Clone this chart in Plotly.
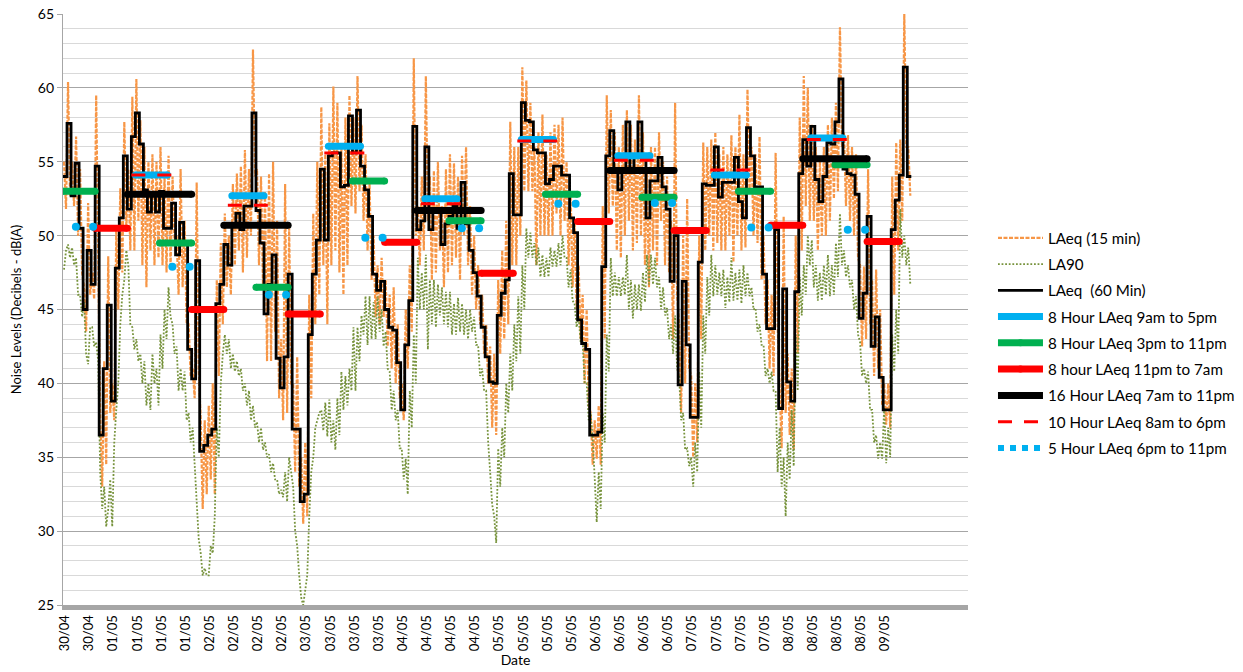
import plotly.graph_objects as go

# ---------------- DATA ----------------
# hourly LAeq (60 min), hour 0 = 30/04 15:00
laeq60 = [
    54.0, 57.6, 52.7, 54.9, 50.5, 45.0, 49.0, 46.7, 54.7, 36.5,
    41.0, 45.3, 38.8, 47.8, 51.2, 55.4, 51.8, 56.7, 58.3, 56.2,
    53.1, 51.6, 52.8, 51.6, 53.0, 50.5, 50.5, 52.2, 48.7, 50.9,
    49.5, 42.3, 40.3, 48.3, 35.4, 35.8, 36.5, 36.9, 45.4, 46.7,
    49.4, 48.0, 50.8, 51.5, 50.4, 52.0, 52.0, 58.3, 51.7, 49.5,
    44.7, 46.7, 48.7, 41.7, 39.7, 41.8, 47.4, 36.9, 36.9, 32.0,
    32.5, 43.3, 47.4, 49.7, 54.5, 49.7, 55.4, 55.6, 55.6, 53.3,
    53.4, 58.1, 55.6, 58.5, 54.7, 53.1, 51.3, 47.4, 46.3, 46.9,
    45.0, 43.8, 43.6, 41.4, 38.2, 42.6, 45.6, 57.4, 50.4, 51.0,
    56.0, 50.4, 51.8, 51.8, 49.4, 50.8, 51.3, 52.0, 50.5, 53.6,
    50.8, 49.0, 47.5, 45.9, 43.8, 41.8, 40.1, 40.0, 44.6, 46.1,
    47.0, 54.2, 51.4, 51.4, 59.0, 57.8, 57.7, 55.8, 55.6, 55.6,
    53.5, 53.8, 54.7, 54.7, 54.1, 54.1, 51.2, 50.2, 44.3, 42.7,
    42.3, 36.5, 36.5, 36.7, 47.9, 55.4, 57.1, 54.4, 53.1, 54.5,
    57.7, 54.4, 55.4, 57.7, 55.4, 51.2, 53.7, 53.7, 55.3, 53.3,
    51.8, 46.9, 50.0, 39.9, 46.9, 42.6, 37.7, 37.7, 48.2, 53.5,
    53.4, 53.4, 56.0, 52.6, 53.6, 53.6, 53.6, 55.3, 52.3, 51.2,
    57.3, 55.4, 53.3, 53.3, 47.4, 43.7, 43.7, 50.4, 38.3, 46.4,
    40.1, 38.8, 46.2, 54.2, 56.5, 54.7, 57.4, 53.8, 52.3, 54.0,
    56.3, 56.2, 57.7, 60.6, 54.5, 54.2, 54.1, 52.8, 44.4, 46.1,
    51.3, 42.5, 44.5, 40.4, 38.2, 38.2, 50.4, 52.4, 54.1, 61.4,
    54.0,
]

# short-term LAeq readings (two per hour)
laeq15 = [
    55, 51.8, 60.4, 52.7, 55, 52, 56.7, 50, 54.5, 47.5, 46.5, 43.5, 52.2, 46, 47.5, 45.7, 59.5, 50, 38, 33,
    41.5, 34.5, 48.6, 38, 40, 37.5, 50.5, 45, 53.2, 47.5, 57.7, 50.5, 54.5, 49, 59.4, 49, 60.6, 51, 57.8, 48,
    56, 46.5, 55, 49, 55.5, 48, 55, 48.5, 56, 48, 54, 47.5, 55.4, 47.8, 54, 49.5, 50, 46, 54.5, 46.5,
    51, 44, 44, 40.5, 41, 39, 53.6, 41, 37.5, 31.5, 37.5, 32.5, 38.5, 33.5, 40, 32.5, 47, 40.5, 49.5, 44,
    51.5, 46.5, 50, 46, 53.5, 48, 54.2, 49, 54.7, 47.5, 55.8, 48.5, 54.5, 50, 62.6, 54, 54.5, 48, 54, 46.5,
    53, 41.5, 54.2, 41.5, 55, 43.5, 51, 39, 43, 37.5, 53.5, 38, 50.5, 40, 40, 34, 41.8, 33, 35, 30.5,
    36, 31, 46, 39, 51.5, 44, 55, 46, 58.7, 48, 55.5, 44, 57.6, 48, 60.1, 49, 59, 47.5, 56, 46,
    58, 48, 59.5, 52, 58, 51.5, 60.8, 53, 57.5, 51, 55.5, 49, 53.5, 47, 50, 44.5, 48, 44, 48.5, 44.5,
    47, 42.5, 46, 41, 46.5, 40, 44, 39, 40, 37.5, 45, 41, 48, 43.5, 62, 50, 52, 48, 54, 49,
    60.8, 51, 54, 47, 54.4, 47.5, 55, 49, 52, 46.5, 54.5, 47.5, 55.5, 48, 54.9, 48.5, 54, 47, 55.4, 50,
    56, 48, 52, 46, 50, 45, 48, 44, 46, 42, 44, 40, 42.5, 37, 42, 36.5, 47, 42, 49, 43,
    51, 44, 57.7, 48, 56, 48, 56, 50, 61.4, 53, 60.5, 53, 59, 53, 56, 48, 57, 50, 58.2, 50,
    55.5, 50, 57, 50, 57.5, 51.5, 57.5, 50, 58, 51, 55, 48, 53, 46.5, 51, 45, 48, 43, 46, 40,
    45, 38.5, 38, 34.5, 37.5, 34.9, 38.5, 34.5, 52, 43, 59.5, 51.5, 58.5, 52, 57, 49, 56, 48.5, 57.5, 50,
    58.5, 51, 57.5, 49, 56.5, 49.5, 59.5, 50, 57, 48, 54.5, 46.5, 56, 49, 56, 48, 57, 51, 55, 48,
    54, 47.5, 51, 43, 59, 46, 44, 38, 50, 40, 52.5, 41, 40.5, 35, 40, 36, 50, 43, 56.3, 49,
    56, 50, 56.5, 49, 57, 49.5, 55.5, 49, 56, 49, 55.5, 50, 56.8, 48.2, 56, 50, 58.2, 49, 55.5, 49.2,
    59.9, 53, 56, 50, 55.5, 49.5, 56.7, 47, 50, 44, 47, 41, 46, 40.5, 55.6, 44, 39.5, 35.6, 51.3, 38,
    42, 36.5, 41, 35.5, 50, 42, 58, 49, 60.8, 52, 60, 51, 57.5, 51, 56, 49, 55, 50, 56, 50,
    57.5, 51, 58, 52.5, 59, 53, 64.1, 56, 57, 52, 56.8, 51, 56, 50, 55.5, 48.5, 48, 42.5, 47.9, 43,
    54.5, 44, 47, 40.5, 47.7, 41, 45, 38.5, 40, 37.2, 40, 37, 54, 46, 56.3, 49, 56.5, 51, 65, 56,
    56, 52.7,
]

# LA90 readings (two per hour)
la90 = [
    47.7, 49, 49.4, 48.5, 49.2, 48, 48.5, 46, 46, 44.5, 45.5, 42, 41.3, 43.8, 43.8, 42.5, 42.8, 41.5, 34, 31.5,
    33, 30.3, 31.5, 33.5, 30.3, 36, 38.2, 40, 44, 46, 47, 49, 48, 44, 43.8, 42.3, 43, 41.5, 42, 40,
    41.5, 38.5, 40, 38.2, 42, 40, 41, 38.5, 43.3, 41, 45, 43, 46.5, 44.5, 44, 42, 42.5, 39.5, 41, 39.5,
    40.8, 37.5, 38, 36, 37, 34, 32, 29.5, 28.5, 27, 27.5, 27, 27, 29, 28.5, 31, 37, 35, 40, 42,
    43.3, 42, 43, 41, 42, 40.8, 41.5, 40.5, 41, 39.5, 40, 38.5, 39.5, 37.5, 38.5, 37, 37.4, 36, 37, 35.5,
    36, 35, 35.2, 34, 34.6, 33.5, 33.5, 32.5, 32.8, 32.3, 34, 32, 35, 34, 33, 30, 29, 27, 25.5, 25,
    26, 27, 31, 34, 35, 37, 37.5, 38, 38.2, 36.8, 38.7, 36.4, 38.9, 36, 37.5, 35.5, 39, 36.5, 40.8, 38.2,
    40.5, 38.5, 41, 39.5, 43.8, 39.5, 43.8, 41.5, 44.6, 43.3, 45.9, 42.6, 45.9, 43, 45.5, 43, 45.9, 43.5, 45, 42.5,
    43.5, 41, 40.8, 38.2, 39.5, 37.5, 38.2, 35.6, 35.6, 33.5, 34.9, 32.5, 39.5, 37, 43.3, 40, 48.5, 45, 47.5, 45,
    48.7, 42.3, 47, 44, 47, 43.8, 46.7, 44.6, 46.5, 44, 46.2, 43.8, 46.2, 43.3, 45.4, 43.3, 45.8, 43.5, 45.4, 43.3,
    45, 43, 45, 43.5, 44.5, 42.6, 42.6, 40.5, 41, 39.5, 39.5, 36, 34, 31.8, 31, 29.2, 35.6, 33, 37, 35,
    40, 38, 42, 39.5, 44, 41.5, 45.9, 42, 48, 45, 50.5, 48.5, 50.2, 48.5, 49.5, 48, 49.2, 47.2, 48.7, 47.2,
    48.5, 47.2, 49.2, 47.9, 49, 47.9, 49.5, 48, 50, 48.5, 48.5, 46.5, 47.7, 45.6, 45.4, 43.8, 44.5, 42.8, 42.8, 40,
    40, 37.5, 38, 36.2, 33.6, 30.6, 34, 31.5, 38, 36, 43.3, 40.8, 48.5, 45.9, 47.5, 45.9, 47.2, 45.9, 47.2, 46,
    48.7, 45, 47, 44.4, 46.7, 45, 46.7, 44.9, 47.5, 45.5, 48.7, 46.7, 48.7, 46.7, 48.5, 46.5, 47.2, 45, 46.5, 44.6,
    45.1, 43, 44, 42, 44.6, 41, 40.5, 37.5, 38, 35.5, 35.6, 34.4, 35, 33, 36, 34, 40.8, 37, 44.6, 42,
    47.2, 44.6, 48.7, 45.9, 48, 46, 47.5, 45.9, 47.7, 45.1, 47.2, 45.5, 48.5, 45.6, 47.5, 45.6, 47.7, 45.4, 48, 45.9,
    47.5, 45.9, 46.5, 45, 45.1, 43.5, 44, 42.6, 42.6, 40.5, 41, 40, 40.8, 39.5, 39.5, 34, 37, 33, 35, 31,
    36, 33.5, 38.2, 34.4, 43.3, 39.5, 47.2, 44.6, 48, 46, 50, 48, 49.7, 46.5, 48, 45.6, 47.5, 45.6, 48, 46,
    48.7, 45.9, 48, 46, 49.5, 47.2, 51.5, 48, 49, 47.2, 48, 46.5, 47, 45, 45.9, 43.3, 42.8, 40.5, 41, 40,
    40.8, 38.2, 38.2, 36, 36.5, 34.9, 36, 34.9, 38.4, 34.6, 37, 35, 43.3, 40.8, 45, 42, 51.8, 48.5, 50, 48,
    49.2, 46.7,
]

# period averages: start hour of each period and its level
day9_start = [18, 42, 66, 90, 114, 138, 162, 186]            # 9am-5pm
day9_vals = [54.1, 52.7, 56.05, 52.5, 56.5, 55.4, 54.1, 56.6]
eve3_start = [0, 24, 48, 72, 96, 120, 144, 168, 192]          # 3pm-11pm
eve3_vals = [53.0, 49.5, 46.5, 53.7, 51.0, 52.8, 52.6, 53.0, 54.8]
night_start = [8, 32, 56, 80, 104, 128, 152, 176, 200]        # 11pm-7am
night_vals = [50.5, 45.0, 44.7, 49.55, 47.45, 50.95, 50.35, 50.7, 49.6]
day16_start = [16, 40, 64, 88, 112, 136, 160, 184]            # 7am-11pm
day16_vals = [52.8, 50.7, None, 51.7, None, 54.4, None, 55.2]
day10_start = [17, 41, 65, 89, 113, 137, 161, 185]            # 8am-6pm
day10_vals = [54.1, 52.05, 55.6, 52.15, 56.4, 55.1, 54.45, 56.5]
eve6_start = [3, 27, 51, 75, 99, 123, 147, 171, 195]          # 6pm-11pm
eve6_vals = [50.6, 47.9, 46.0, 49.85, 50.5, 52.15, 52.2, 50.55, 50.4]

tick_labels = [
    "30/04", "30/04",
    "01/05", "01/05", "01/05", "01/05",
    "02/05", "02/05", "02/05", "02/05",
    "03/05", "03/05", "03/05", "03/05",
    "04/05", "04/05", "04/05", "04/05",
    "05/05", "05/05", "05/05", "05/05",
    "06/05", "06/05", "06/05", "06/05",
    "07/05", "07/05", "07/05", "07/05",
    "08/05", "08/05", "08/05", "08/05",
    "09/05",
]

# ---------------- FIGURE ----------------
FONT = "Lato"
C_ORANGE = "#F79646"
C_LA90 = "#77933C"
C_BLUE = "#00B0F0"
C_GREEN = "#00B050"
C_RED = "#FF0000"


def segments(starts, length, vals):
    xs, ys = [], []
    for s, v in zip(starts, vals):
        if v is None:
            continue
        xs += [s, s + length, None]
        ys += [v, v, None]
    return xs, ys


fig = go.Figure()

x15 = [i * 0.5 + 0.25 for i in range(len(laeq15))]
fig.add_trace(go.Scatter(
    x=x15, y=laeq15, mode="lines", name="LAeq (15 min)",
    line=dict(color=C_ORANGE, width=2.2, dash="4px,1.5px"),
    legendgroup="a"))

x90 = [i * 0.5 + 0.25 for i in range(len(la90))]
fig.add_trace(go.Scatter(
    x=x90, y=la90, mode="lines", name="LA90",
    line=dict(color=C_LA90, width=1.8, dash="1.8px,1.8px"),
    legendgroup="b"))

x60 = list(range(len(laeq60))) + [len(laeq60)]
y60 = laeq60 + [laeq60[-1]]
fig.add_trace(go.Scatter(
    x=x60, y=y60, mode="lines", name="LAeq  (60 Min)", line_shape="hv",
    line=dict(color="black", width=2.8), legendgroup="c"))

bar_specs = [
    (day9_start, 8, day9_vals, C_BLUE, "8 Hour LAeq 9am to 5pm", "d"),
    (eve3_start, 8, eve3_vals, C_GREEN, "8 Hour LAeq 3pm to 11pm", "e"),
    (night_start, 8, night_vals, C_RED, "8 hour LAeq 11pm to 7am", "f"),
    (day16_start, 16, day16_vals, "black", "16 Hour LAeq 7am to 11pm", "g"),
]
for st, ln, vals, col, name, grp in bar_specs:
    xs, ys = segments(st, ln, vals)
    fig.add_trace(go.Scatter(
        x=xs, y=ys, mode="lines+markers", name=name,
        line=dict(color=col, width=7),
        marker=dict(color=col, size=7, line=dict(width=0)),
        legendgroup=grp))

xs, ys = segments(day10_start, 10, day10_vals)
fig.add_trace(go.Scatter(
    x=xs, y=ys, mode="lines", name="10 Hour LAeq 8am to 6pm",
    line=dict(color=C_RED, width=3, dash="14px,12px"), legendgroup="h"))

# 5 hour evening level: legend entry + round dots
fig.add_trace(go.Scatter(
    x=[None], y=[None], mode="lines", name="5 Hour LAeq 6pm to 11pm",
    line=dict(color=C_BLUE, width=6, dash="dot"), legendgroup="i"))
dot_x, dot_y = [], []
for s, v in zip(eve6_start, eve6_vals):
    dot_x += [s + 0.2, s + 5 - 0.5]
    dot_y += [v, v]
fig.add_trace(go.Scatter(
    x=dot_x, y=dot_y, mode="markers", showlegend=False,
    marker=dict(color=C_BLUE, size=8, line=dict(width=0)), legendgroup="i"))

fig.update_layout(
    width=1243, height=672,
    margin=dict(l=63, r=275, t=14, b=67, autoexpand=False),
    paper_bgcolor="white", plot_bgcolor="white",
    font=dict(family=FONT, size=13, color="#000000"),
    showlegend=True,
    legend=dict(
        x=1.0276, y=0.649, xanchor="left", yanchor="top",
        font=dict(family=FONT, size=15.2, color="#000000"),
        traceorder="grouped", tracegroupgap=3.5,
        bgcolor="rgba(0,0,0,0)", itemwidth=45,
    ),
)

fig.update_xaxes(
    range=[0, 225.1],
    automargin=False,
    tickmode="array",
    tickvals=[0.5 + 6 * k for k in range(len(tick_labels))],
    ticktext=tick_labels,
    tickangle=-90,
    tickfont=dict(family=FONT, size=13, color="#000000"),
    showgrid=False, zeroline=False,
    showline=True, linecolor="#A6A6A6", linewidth=5,
    ticks="",
    title=dict(text="Date", font=dict(family=FONT, size=14, color="#000000"), standoff=4),
)

fig.update_yaxes(
    range=[25, 65],
    automargin=False,
    ticklabeloverflow="allow",
    tick0=25, dtick=5,
    tickfont=dict(family=FONT, size=14, color="#000000"),
    showgrid=True, gridcolor="#A6A6A6", gridwidth=1.3,
    minor=dict(dtick=1, showgrid=True, gridcolor="#D9D9D9", gridwidth=1.3),
    zeroline=False,
    showline=True, linecolor="#A6A6A6", linewidth=1.3,
    ticks="outside", ticklen=5, tickcolor="#A6A6A6",
    title=dict(text="Noise Levels (Decibels - dB(A)",
               font=dict(family=FONT, size=13, color="#000000"), standoff=13),
)

fig.write_html("out.html", config={"displayModeBar": False},
               post_script="document.body.style.margin='0px';")
